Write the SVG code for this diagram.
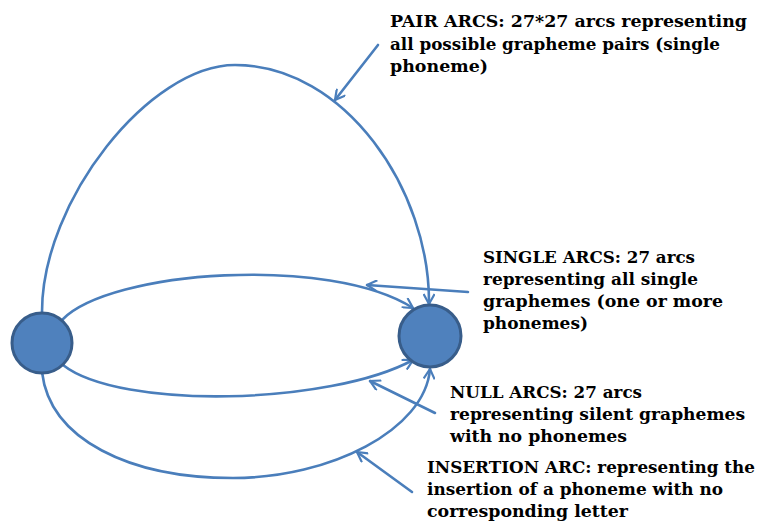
<svg xmlns="http://www.w3.org/2000/svg" width="757" height="527" viewBox="0 0 757 527">
<style>
.arc{fill:none;stroke:#4a7ebb;stroke-width:2.6;stroke-linecap:round}
.node{fill:#4f81bd;stroke:#385d8a;stroke-width:3}
.lbl{font-family:"DejaVu Serif","Liberation Serif",serif;font-weight:bold;font-size:16px;fill:#000}
</style>
<defs>
<marker id="ah" viewBox="0 0 12 12" refX="11" refY="6" markerWidth="12" markerHeight="12" markerUnits="userSpaceOnUse" orient="auto">
<path d="M1 0.5 L11 6 L1 11.5" fill="none" stroke="#4a7ebb" stroke-width="2.2"/>
</marker>
</defs>
<rect width="757" height="527" fill="#fff"/>
<g id="connectors">
<path id="pair-arc" class="arc" marker-end="url(#ah)" d="M42 312 C42 200 150 65 235 65 C345 65 430 190 429 304"/>
<path id="single-arc" class="arc" marker-end="url(#ah)" d="M62 320 C110 270 330 255 413 308"/>
<path id="null-arc" class="arc" marker-end="url(#ah)" d="M63 365 C120 410 330 405 413 360"/>
<path id="insertion-arc" class="arc" marker-end="url(#ah)" d="M42 372 C50 440 130 478 233 478 C330 478 425 430 430 369"/>
<path id="pair-pointer" class="arc" marker-end="url(#ah)" d="M378 45 L335 100"/>
<path id="single-pointer" class="arc" marker-end="url(#ah)" d="M468 292 L367 285"/>
<path id="null-pointer" class="arc" marker-end="url(#ah)" d="M435 413 L370 381"/>
<path id="insertion-pointer" class="arc" marker-end="url(#ah)" d="M412 492 L357 452"/>
</g>
<g id="node-left"><circle class="node" cx="42" cy="343" r="30"/></g>
<g id="node-right"><circle class="node" cx="430" cy="336" r="31"/></g>
<g id="label-pair" class="lbl">
<text x="390" y="27" textLength="357" lengthAdjust="spacingAndGlyphs">PAIR ARCS: 27*27 arcs representing</text>
<text x="390" y="50" textLength="330" lengthAdjust="spacingAndGlyphs">all possible grapheme pairs (single</text>
<text x="390" y="72" textLength="98" lengthAdjust="spacingAndGlyphs">phoneme)</text>
</g>
<g id="label-single" class="lbl">
<text x="483" y="263" textLength="212" lengthAdjust="spacingAndGlyphs">SINGLE ARCS: 27 arcs</text>
<text x="483" y="285" textLength="215" lengthAdjust="spacingAndGlyphs">representing all single</text>
<text x="483" y="307" textLength="240" lengthAdjust="spacingAndGlyphs">graphemes (one or more</text>
<text x="483" y="329" textLength="105" lengthAdjust="spacingAndGlyphs">phonemes)</text>
</g>
<g id="label-null" class="lbl">
<text x="450" y="398" textLength="192" lengthAdjust="spacingAndGlyphs">NULL ARCS: 27 arcs</text>
<text x="450" y="420" textLength="295" lengthAdjust="spacingAndGlyphs">representing silent graphemes</text>
<text x="450" y="442" textLength="177" lengthAdjust="spacingAndGlyphs">with no phonemes</text>
</g>
<g id="label-insertion" class="lbl">
<text x="427" y="473" textLength="328" lengthAdjust="spacingAndGlyphs">INSERTION ARC: representing the</text>
<text x="427" y="495" textLength="296" lengthAdjust="spacingAndGlyphs">insertion of a phoneme with no</text>
<text x="427" y="517" textLength="201" lengthAdjust="spacingAndGlyphs">corresponding letter</text>
</g>
</svg>
